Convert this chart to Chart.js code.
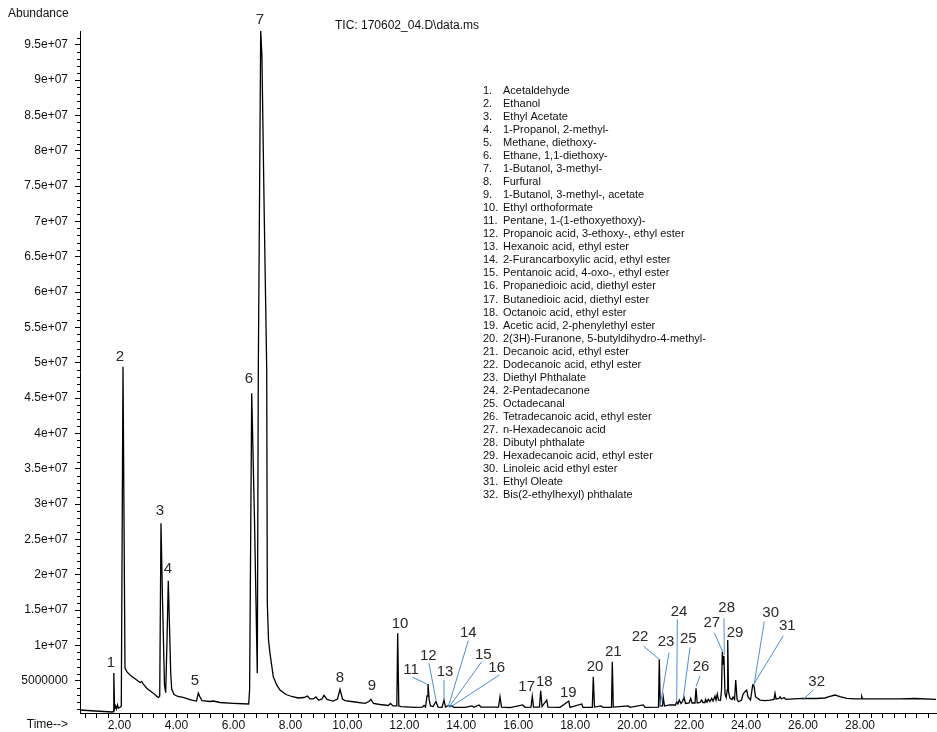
<!DOCTYPE html>
<html>
<head>
<meta charset="utf-8">
<script src="https://cdn.jsdelivr.net/npm/chart.js@4"></script>
<style>
html,body{margin:0;padding:0;background:#fff;}
#wrap{position:absolute;left:0;top:0;width:937px;height:732px;}
</style>
</head>
<body>
<div id="wrap"><canvas id="c" width="937" height="732"></canvas></div>
<script>
// ---- Data (retention time in min, abundance) ----
const times = [0.613,1.140,1.754,1.779,1.800,1.828,1.860,1.895,1.930,1.965,2.035,2.063,2.123,2.193,2.263,2.369,2.604,2.720,2.780,
2.843,2.966,3.187,3.246,3.306,3.369,3.412,3.457,3.510,3.580,3.622,3.668,3.713,3.759,3.798,3.833,3.914,4.054,4.230,4.535,
4.704,4.767,4.827,4.897,5.178,5.294,5.529,5.985,6.537,6.568,6.642,6.740,6.838,6.874,6.958,7.000,7.074,7.169,7.190,7.232,
7.284,7.400,7.520,7.636,7.846,8.046,8.268,8.478,8.601,8.689,8.805,8.900,8.987,9.110,9.180,9.286,9.496,9.654,9.742,9.830,
9.918,10.269,10.620,10.760,10.830,10.918,11.146,11.438,11.515,11.603,11.737,11.768,11.807,11.884,12.376,12.639,12.692,12.745,12.797,12.832,
12.874,12.920,13.008,13.113,13.183,13.324,13.394,13.446,13.552,13.605,13.657,13.745,14.131,14.377,14.447,14.623,14.693,15.009,15.308,15.360,
15.413,15.711,16.157,16.238,16.449,16.494,16.537,16.747,16.789,16.835,17.000,17.046,17.467,17.773,17.818,18.229,18.275,18.601,18.636,18.678,
18.907,18.977,19.275,19.303,19.338,19.865,19.924,20.391,20.451,20.925,20.953,20.988,21.065,21.093,21.136,21.329,21.522,21.564,21.610,21.656,
21.716,21.768,21.821,21.874,21.997,22.056,22.102,22.207,22.243,22.285,22.383,22.442,22.488,22.558,22.576,22.629,22.674,22.734,22.794,22.839,
22.909,22.944,22.990,23.032,23.102,23.138,23.166,23.194,23.222,23.261,23.303,23.338,23.356,23.384,23.437,23.507,23.542,23.595,23.637,23.683,
23.729,23.841,23.894,23.964,24.022,24.068,24.156,24.233,24.279,24.331,24.490,24.665,24.841,24.982,25.017,25.052,25.157,25.192,25.244,25.332,
25.402,25.659,26.010,26.480,26.772,26.947,27.123,27.299,27.534,27.826,28.036,28.061,28.089,28.704,29.406,29.933,30.670];

const abundance = [0.85e6,0.71e6,0.57e6,0.64e6,6.09e6,0.99e6,1.42e6,0.99e6,1.56e6,1.13e6,1.27e6,1.42e6,49.43e6,6.79e6,6.23e6,5.80e6,5.09e6,4.74e6,4.88e6,
4.46e6,3.89e6,3.21e6,3.04e6,2.76e6,2.62e6,2.83e6,27.27e6,16.42e6,4.39e6,3.30e6,10.76e6,19.15e6,12.17e6,6.04e6,3.82e6,3.04e6,2.76e6,2.62e6,2.26e6,
2.12e6,3.25e6,2.69e6,2.19e6,2.05e6,2.12e6,1.91e6,1.80e6,1.70e6,3.68e6,45.67e6,27.74e6,6.04e6,48.97e6,96.94e6,93.5e6,73.0e6,48.97e6,15.99e6,10.76e6,
8.87e6,5.56e6,4.39e6,3.68e6,3.04e6,2.76e6,2.55e6,2.62e6,2.83e6,2.41e6,2.41e6,2.69e6,2.22e6,2.41e6,2.93e6,2.34e6,2.12e6,2.41e6,3.78e6,2.41e6,
2.19e6,1.98e6,1.80e6,2.05e6,2.36e6,1.77e6,1.63e6,1.49e6,1.77e6,1.42e6,1.42e6,11.70e6,1.42e6,1.32e6,1.23e6,1.27e6,1.49e6,1.27e6,2.83e6,4.53e6,
2.26e6,1.42e6,1.34e6,2.05e6,1.27e6,1.23e6,2.26e6,1.27e6,1.49e6,1.34e6,1.44e6,1.23e6,1.23e6,1.42e6,1.23e6,1.56e6,1.27e6,1.27e6,1.27e6,2.73e6,
1.27e6,1.20e6,1.56e6,1.23e6,1.27e6,2.79e6,1.27e6,1.27e6,3.58e6,1.34e6,2.26e6,1.27e6,1.23e6,2.12e6,1.23e6,1.70e6,1.23e6,1.23e6,5.56e6,1.27e6,
1.42e6,1.23e6,1.23e6,7.68e6,1.27e6,1.42e6,1.23e6,1.56e6,1.23e6,1.27e6,8.02e6,1.42e6,1.42e6,2.65e6,1.42e6,1.56e6,1.56e6,2.02e6,1.70e6,2.26e6,
1.77e6,2.05e6,2.65e6,1.77e6,1.84e6,2.50e6,1.84e6,1.84e6,3.92e6,1.84e6,1.91e6,2.26e6,1.91e6,1.91e6,2.34e6,1.98e6,2.36e6,2.05e6,2.50e6,2.12e6,
2.83e6,2.26e6,3.11e6,2.26e6,2.19e6,3.68e6,9.10e6,7.36e6,8.49e6,3.11e6,2.62e6,3.68e6,10.76e6,3.40e6,2.50e6,2.34e6,2.69e6,2.34e6,5.09e6,2.41e6,
2.02e6,2.26e6,3.11e6,3.44e6,3.68e6,2.69e6,2.26e6,4.39e6,4.25e6,2.73e6,2.26e6,2.19e6,2.26e6,2.34e6,3.21e6,2.41e6,2.48e6,2.73e6,2.41e6,2.62e6,
2.36e6,2.41e6,2.50e6,2.48e6,2.55e6,2.76e6,2.97e6,2.73e6,2.50e6,2.43e6,2.43e6,2.76e6,2.43e6,2.41e6,2.41e6,2.48e6,2.36e6];

// Axis ranges and ticks
const timeMin = 0.613, timeMax = 30.669;
const abundMin = 0.4246e6, abundMax = 96.94e6;
const timeTicks = [0.8,1.2,1.6,2,2.4,2.8,3.2,3.6,4,4.4,4.8,5.2,5.6,6,6.4,6.8,7.2,7.6,8,8.4,8.8,9.2,9.6,10,10.4,10.8,11.2,11.6,12,
12.4,12.8,13.2,13.6,14,14.4,14.8,15.2,15.6,16,16.4,16.8,17.2,17.6,18,18.4,18.8,19.2,19.6,20,20.4,20.8,21.2,21.6,22,22.4,22.8,23.2,
23.6,24,24.4,24.8,25.2,25.6,26,26.4,26.8,27.2,27.6,28,28.4,28.8,29.2,29.6,30,30.4];
const timeTickLabels = [2,4,6,8,10,12,14,16,18,20,22,24,26,28];
const abundTicks = [5e6,10e6,15e6,20e6,25e6,30e6,35e6,40e6,45e6,50e6,55e6,60e6,65e6,70e6,75e6,80e6,85e6,90e6,95e6];
const abundTickLabels = ["5000000","1e+07","1.5e+07","2e+07","2.5e+07","3e+07","3.5e+07","4e+07","4.5e+07","5e+07",
"5.5e+07","6e+07","6.5e+07","7e+07","7.5e+07","8e+07","8.5e+07","9e+07","9.5e+07"];
const abundMinorTicks = [1e6,2e6,3e6,4e6,6e6,7e6,8e6,9e6,11e6,12e6,13e6,14e6,16e6,17e6,18e6,19e6,21e6,22e6,23e6,24e6,26e6,27e6,28e6,29e6,
31e6,32e6,33e6,34e6,36e6,37e6,38e6,39e6,41e6,42e6,43e6,44e6,46e6,47e6,48e6,49e6,51e6,52e6,53e6,54e6,56e6,57e6,58e6,59e6,
61e6,62e6,63e6,64e6,66e6,67e6,68e6,69e6,71e6,72e6,73e6,74e6,76e6,77e6,78e6,79e6,81e6,82e6,83e6,84e6,86e6,87e6,88e6,89e6,
91e6,92e6,93e6,94e6,96e6];

// Peak labels (anchor in data units)
const peakNumbers = [1,2,3,4,5,6,7,8,9,10,11,12,13,14,15,16,17,18,19,20,21,22,23,24,25,26,27,28,29,30,31,32];
const labelTime = [1.702,2.018,3.422,3.703,4.651,6.547,6.933,9.742,10.866,11.849,12.235,12.843,13.429,14.247,14.774,15.244,
16.298,16.916,17.758,18.696,19.339,20.276,21.189,21.645,21.972,22.418,22.794,23.320,23.612,24.865,25.448,26.480];
const labelAbund = [7.50e6,50.81e6,29.01e6,20.80e6,4.95e6,47.69e6,98.50e6,5.38e6,4.25e6,13.02e6,6.51e6,8.53e6,6.27e6,11.70e6,8.63e6,6.75e6,
4.06e6,4.85e6,3.30e6,6.98e6,9.10e6,11.22e6,10.52e6,14.76e6,10.85e6,6.89e6,13.12e6,15.24e6,11.79e6,14.53e6,12.74e6,4.77e6];

// Leader lines (data units)
const leaderPeak = [11,12,13,14,15,16,22,23,24,25,26,27,28,30,31,32];
const leaderFromTime = [12.295,12.867,13.394,14.247,14.718,15.336,20.392,21.294,21.586,22.032,22.383,22.885,23.225,24.640,25.308,26.361];
const leaderFromAbund = [5.48e6,7.46e6,5.09e6,10.66e6,7.68e6,5.80e6,9.91e6,8.96e6,13.69e6,9.72e6,5.66e6,11.79e6,13.83e6,13.35e6,11.36e6,3.68e6];
const leaderToTime = [12.787,13.113,13.394,13.545,13.580,13.605,20.954,20.978,21.565,21.796,22.242,23.180,23.236,24.279,24.254,26.010];
const leaderToAbund = [4.53e6,2.26e6,2.26e6,1.32e6,1.32e6,1.23e6,8.02e6,1.32e6,2.02e6,2.50e6,4.15e6,9.10e6,8.63e6,4.39e6,4.39e6,2.36e6];

// Compound list
const compoundNames = [
"Acetaldehyde","Ethanol","Ethyl Acetate","1-Propanol, 2-methyl-","Methane, diethoxy-","Ethane, 1,1-diethoxy-",
"1-Butanol, 3-methyl-","Furfural","1-Butanol, 3-methyl-, acetate","Ethyl orthoformate","Pentane, 1-(1-ethoxyethoxy)-",
"Propanoic acid, 3-ethoxy-, ethyl ester","Hexanoic acid, ethyl ester","2-Furancarboxylic acid, ethyl ester",
"Pentanoic acid, 4-oxo-, ethyl ester","Propanedioic acid, diethyl ester","Butanedioic acid, diethyl ester",
"Octanoic acid, ethyl ester","Acetic acid, 2-phenylethyl ester","2(3H)-Furanone, 5-butyldihydro-4-methyl-",
"Decanoic acid, ethyl ester","Dodecanoic acid, ethyl ester","Diethyl Phthalate","2-Pentadecanone","Octadecanal",
"Tetradecanoic acid, ethyl ester","n-Hexadecanoic acid","Dibutyl phthalate","Hexadecanoic acid, ethyl ester",
"Linoleic acid ethyl ester","Ethyl Oleate","Bis(2-ethylhexyl) phthalate"];

const titleText = "TIC: 170602_04.D\\data.ms";
const yTitle = "Abundance";
const xTitle = "Time-->";

const FONT = "'Liberation Sans', Arial, Helvetica, sans-serif";

const annotPlugin = {
  id: 'annot',
  afterDraw(chart) {
    const {ctx} = chart;
    const x = chart.scales.x, y = chart.scales.y;
    ctx.save();
    // minor y ticks
    ctx.strokeStyle = '#000';
    ctx.lineWidth = 1;
    abundMinorTicks.forEach(v => {
      const py = Math.round(y.getPixelForValue(v)) + 0.5;
      ctx.beginPath(); ctx.moveTo(x.left - 3, py); ctx.lineTo(x.left, py); ctx.stroke();
    });
    // leader lines
    ctx.strokeStyle = '#4b8fd6';
    ctx.lineWidth = 1;
    for (let i = 0; i < leaderPeak.length; i++) {
      ctx.beginPath();
      ctx.moveTo(x.getPixelForValue(leaderFromTime[i]), y.getPixelForValue(leaderFromAbund[i]));
      ctx.lineTo(x.getPixelForValue(leaderToTime[i]), y.getPixelForValue(leaderToAbund[i]));
      ctx.stroke();
    }
    // peak numbers
    ctx.fillStyle = '#2a2a2a';
    ctx.font = "15px " + FONT;
    ctx.textAlign = 'center';
    ctx.textBaseline = 'middle';
    for (let i = 0; i < peakNumbers.length; i++) {
      ctx.fillText(String(peakNumbers[i]), x.getPixelForValue(labelTime[i]), y.getPixelForValue(labelAbund[i]));
    }
    // title & axis titles
    ctx.fillStyle = '#111';
    ctx.font = "12px " + FONT;
    ctx.textAlign = 'left';
    ctx.fillText(titleText, 335, 26);
    ctx.fillText(yTitle, 8, 14);
    ctx.textAlign = 'right';
    ctx.fillText(xTitle, 68, 725);
    // compound list
    ctx.font = "11px " + FONT;
    ctx.textAlign = 'left';
    for (let i = 0; i < compoundNames.length; i++) {
      const ly = 91 + i * 13.03;
      ctx.fillText((i + 1) + ".", 483, ly);
      ctx.fillText(compoundNames[i], 503, ly);
    }
    ctx.restore();
  }
};

new Chart(document.getElementById('c'), {
  type: 'line',
  data: {
    datasets: [{
      data: times.map((t, i) => ({x: t, y: abundance[i]})),
      borderColor: '#000',
      borderWidth: 1.3,
      pointRadius: 0,
      tension: 0,
      fill: false
    }]
  },
  options: {
    responsive: false,
    animation: false,
    devicePixelRatio: 1,
    layout: {padding: {left: 0, right: 1, top: 31, bottom: 0}},
    plugins: {legend: {display: false}, tooltip: {enabled: false}},
    scales: {
      x: {
        type: 'linear',
        min: timeMin, max: timeMax,
        afterBuildTicks: s => { s.ticks = timeTicks.map(v => ({value: v})); },
        afterFit: s => { s.height = 19; },
        border: {display: true, color: '#000', width: 1},
        grid: {display: true, drawOnChartArea: false, drawTicks: true, tickLength: 5, color: '#000', lineWidth: 1},
        ticks: {
          autoSkip: false, maxRotation: 0, minRotation: 0,
          padding: 0, color: '#111', font: {family: FONT, size: 12},
          callback: v => {
            const k = timeTickLabels.findIndex(l => Math.abs(l - v) < 1e-6);
            return k >= 0 ? timeTickLabels[k].toFixed(2) : '';
          }
        }
      },
      y: {
        type: 'linear',
        min: abundMin, max: abundMax,
        afterBuildTicks: s => { s.ticks = abundTicks.map(v => ({value: v})); },
        afterFit: s => { s.width = 80; },
        border: {display: true, color: '#000', width: 1},
        grid: {display: true, drawOnChartArea: false, drawTicks: true, tickLength: 5, color: '#000', lineWidth: 1},
        ticks: {
          autoSkip: false,
          padding: 7, color: '#111', font: {family: FONT, size: 12},
          callback: v => {
            const k = abundTicks.findIndex(t => Math.abs(t - v) < 1);
            return k >= 0 ? abundTickLabels[k] : '';
          }
        }
      }
    }
  },
  plugins: [annotPlugin]
});
</script>
</body>
</html>
